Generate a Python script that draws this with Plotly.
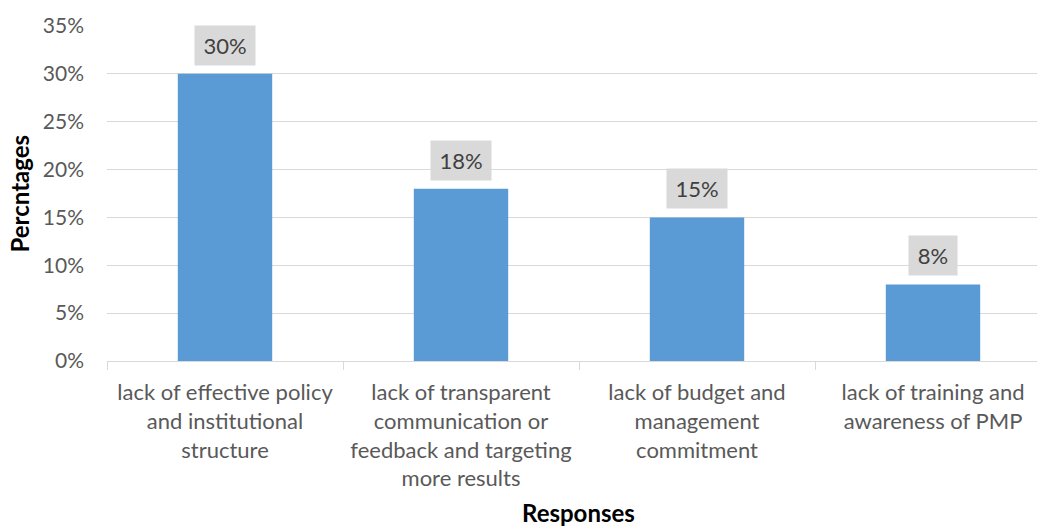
import plotly.graph_objects as go

# Survey responses: share of respondents citing each barrier
categories = [
    "lack of effective policy<br>and institutional<br>structure",
    "lack of transparent<br>communication or<br>feedback and targeting<br>more results",
    "lack of budget and<br>management<br>commitment",
    "lack of training and<br>awareness of PMP",
]
shares = [0.30, 0.18, 0.15, 0.08]
y_ticks = [0, 0.05, 0.10, 0.15, 0.20, 0.25, 0.30, 0.35]

W, H = 1037, 528
L, R, T, B = 107, 0, 26, 167
plot_w = W - L - R
plot_h = H - T - B
cat_px = 236  # pixel width of one category slot

FONT = "Lato"
BAR = "#5b9bd5"
GRID = "#d9d9d9"

fig = go.Figure(
    go.Bar(
        x=categories,
        y=shares,
        width=0.4,
        marker=dict(color=BAR, line=dict(width=0)),
        hoverinfo="skip",
    )
)

# value labels in grey boxes above each bar
for c, v in zip(categories, shares):
    txt = f"{round(v * 100)}%"
    fig.add_annotation(
        x=c, y=v, xref="x", yref="y",
        text=txt, showarrow=False,
        yanchor="bottom", yshift=8,
        bgcolor="#d9d9d9",
        width=22 + 12 * len(txt), height=37,
        font=dict(family=FONT, size=22, color="#404040"),
    )

# axis titles
fig.add_annotation(
    text="<b>Percntages</b>", textangle=-90,
    xref="paper", yref="paper",
    x=(19 - L) / plot_w, y=0.5,
    xanchor="center", yanchor="middle", showarrow=False,
    font=dict(family=FONT, size=24, color="#000000"),
)
fig.add_annotation(
    text="<b>Responses</b>",
    xref="paper", yref="paper",
    x=(578 - L) / plot_w, y=-(512 - (H - B)) / plot_h,
    xanchor="center", yanchor="middle", showarrow=False,
    font=dict(family=FONT, size=24, color="#000000"),
)

fig.update_layout(
    width=W, height=H,
    margin=dict(l=L, r=R, t=T, b=B, pad=0),
    paper_bgcolor="white", plot_bgcolor="white",
    showlegend=False,
    font=dict(family=FONT, color="#595959"),
    xaxis=dict(
        type="category",
        range=[-0.5, -0.5 + plot_w / cat_px],
        showline=True, linecolor=GRID, linewidth=1,
        ticks="outside", tickson="boundaries", ticklen=8, tickcolor=GRID, tickwidth=1,
        showgrid=False,
        tickfont=dict(family=FONT, size=22, color="#595959"),
        ticklabelstandoff=12,
    ),
    yaxis=dict(
        range=[0, 0.35],
        tickvals=y_ticks,
        tickformat=".0%",
        showgrid=True, gridcolor=GRID, gridwidth=1,
        zeroline=False, showline=False,
        ticks="",
        tickfont=dict(family=FONT, size=21, color="#595959"),
        ticklabelstandoff=22,
    ),
)

fig.write_html("out.html")
